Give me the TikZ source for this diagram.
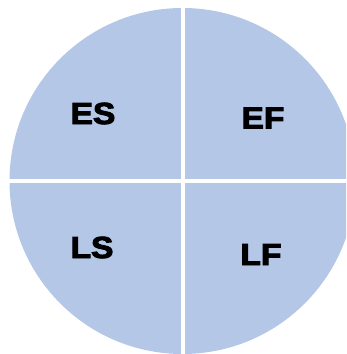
\documentclass[tikz,border=0pt]{standalone}
\usepackage{fontspec}
\setmainfont{Liberation Sans}[BoldFeatures={FakeBold=3}]
\definecolor{quad}{HTML}{B4C7E7}
\begin{document}
\begin{tikzpicture}[x=1pt,y=-1pt,
  lbl/.style={anchor=base,inner sep=0pt,font=\fontsize{30.5}{30.5}\selectfont\bfseries,text=black,xscale=1.1,transform shape}]
\useasboundingbox (0,0) rectangle (346,354);
\begin{scope}
\clip (0,0) rectangle (346,354);
\fill[quad] (182.5,181) circle[radius=173];
\end{scope}
\coordinate (top) at (182.5,0);
\coordinate (bot) at (182.5,354);
\coordinate (lft) at (0,181);
\coordinate (rgt) at (346,181);
\draw[white,line width=4pt] (top) -- (bot);
\draw[white,line width=4pt] (lft) -- (rgt);
\node[lbl] (es) at (93,124) {ES};
\node[lbl] (ef) at (263,128.5) {EF};
\node[lbl] (ls) at (92,258) {LS};
\node[lbl] (lf) at (261,265) {LF};
\end{tikzpicture}
\end{document}
